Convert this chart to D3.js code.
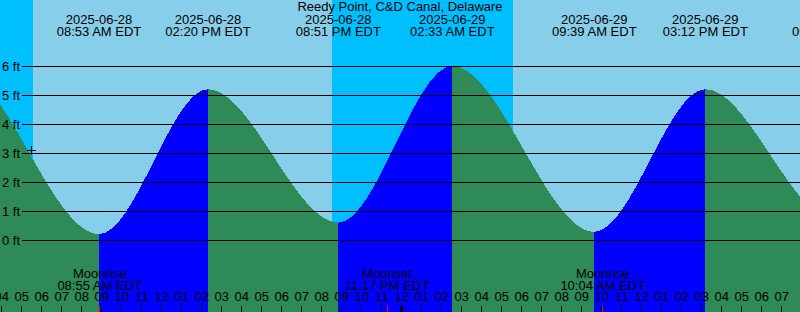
<!DOCTYPE html>
<html>
<head>
<meta charset="utf-8">
<script src="https://cdn.jsdelivr.net/npm/d3@7"></script>
<style>
  body { margin: 0; overflow: hidden; background: #87ceeb; }
  svg { display: block; }
  text { font-family: "Liberation Sans", Arial, sans-serif; font-size: 13px; fill: #000; }
</style>
</head>
<body>
<svg class="chart"></svg>
<script>
let width = 800,
  height = 312;

// chart data (first and last tides sit just outside the view)
let title = "Reedy Point, C&D Canal, Delaware";
let startTime = "2025-06-28 03:56",
  endTime = "2025-06-29 19:56";

let tideTimes = [
  "2025-06-27 19:50",
  "2025-06-28 01:50",
  "2025-06-28 08:53",
  "2025-06-28 14:20",
  "2025-06-28 20:51",
  "2025-06-29 02:33",
  "2025-06-29 09:39",
  "2025-06-29 15:12",
  "2025-06-29 21:40",
  "2025-06-30 03:25",
];
let tideHeights = [0.5, 5.9, 0.2, 5.2, 0.6, 6.0, 0.28, 5.2, 0.7, 6.0];

let sunTimes = ["2025-06-28 05:35", "2025-06-28 20:32", "2025-06-29 05:35"];
let sunKinds = ["rise", "set", "rise"];

let moonTimes = ["2025-06-28 08:55", "2025-06-28 23:17", "2025-06-29 10:04"];
let moonLabels = ["Moonrise", "Moonset", "Moonrise"];

let feetTicks = [0, 1, 2, 3, 4, 5, 6];

let nowTime = "2025-06-28 05:28",
  nowHeight = 3.1;

let parse = d3.timeParse("%Y-%m-%d %H:%M");
let fmtDate = d3.timeFormat("%Y-%m-%d");
let fmtClock = d3.timeFormat("%I:%M %p");

let x = d3.scaleTime().domain([parse(startTime), parse(endTime)]).range([0, width]);
let y = d3.scaleLinear().domain([0, 6]).range([240, 66]);

let svg = d3.select(".chart").attr("width", width).attr("height", height);

let tides = tideTimes.map((t, i) => ({ t: parse(t), h: tideHeights[i] }));

// sky: day colour everywhere, night bands on top
svg.append("rect")
  .attr("width", width).attr("height", height)
  .attr("fill", "#87ceeb");

let nights = [];
let prev = x.domain()[0];
sunTimes.forEach((s, i) => {
  let t = parse(s);
  if (sunKinds[i] == "rise") nights.push([prev, t]);
  else prev = t;
});
if (sunKinds[sunKinds.length - 1] == "set") nights.push([prev, x.domain()[1]]);

svg.selectAll(".night")
  .data(nights)
  .enter()
  .append("rect")
  .attr("class", "night")
  .attr("x", d => x(d[0]))
  .attr("width", d => x(d[1]) - x(d[0]))
  .attr("height", height)
  .attr("fill", "#00bfff")
  .attr("shape-rendering", "crispEdges");

// water: ebb green everywhere, flood blue clipped to rising stretches
let area = d3.area()
  .x(d => x(d.t))
  .y0(height)
  .y1(d => y(d.h))
  .curve(d3.curveMonotoneX);

svg.append("path")
  .datum(tides)
  .attr("d", area)
  .attr("fill", "#2e8b57")
  .attr("shape-rendering", "crispEdges");

let rising = [];
for (let i = 0; i < tides.length - 1; i++) {
  if (tides[i + 1].h > tides[i].h) rising.push([tides[i].t, tides[i + 1].t]);
}

let defs = svg.append("defs");
rising.forEach((r, i) => {
  defs.append("clipPath").attr("id", "rise" + i)
    .append("rect")
    .attr("x", Math.round(x(r[0])))
    .attr("width", Math.round(x(r[1])) - Math.round(x(r[0])))
    .attr("height", height);
  svg.append("path")
    .datum(tides)
    .attr("d", area)
    .attr("fill", "#0000ff")
    .attr("shape-rendering", "crispEdges")
    .attr("clip-path", "url(#rise" + i + ")");
});

// feet grid
let yAxis = svg.append("g")
  .attr("transform", "translate(22,0)")
  .call(d3.axisLeft(y)
    .tickValues(feetTicks)
    .tickSize(-(width - 22))
    .tickPadding(2)
    .tickFormat(d => d + " ft"));
yAxis.select(".domain").remove();
yAxis.selectAll("line").attr("stroke", "#000").attr("shape-rendering", "crispEdges");
yAxis.selectAll("text").attr("font-family", null).attr("font-size", null);

// hour ticks along the bottom
let xAxis = svg.append("g")
  .attr("transform", "translate(0," + height + ")")
  .call(d3.axisTop(x)
    .ticks(d3.timeHour.every(1))
    .tickSize(6)
    .tickPadding(5)
    .tickFormat(d3.timeFormat("%I")));
xAxis.select(".domain").remove();
xAxis.selectAll("line")
  .attr("stroke", "#000")
  .attr("shape-rendering", "crispEdges")
  .attr("stroke-width", d => (d.getHours() == 0 ? 3 : 1));
xAxis.selectAll("text").attr("font-family", null).attr("font-size", null);

// title
svg.append("text")
  .attr("x", width / 2)
  .attr("y", 11)
  .attr("text-anchor", "middle")
  .text(title);

// high / low labels
let tideLabel = svg.selectAll(".tideLabel")
  .data(tides)
  .enter()
  .append("text")
  .attr("class", "tideLabel")
  .attr("text-anchor", "middle");
tideLabel.append("tspan")
  .attr("x", d => x(d.t)).attr("y", 24)
  .text(d => fmtDate(d.t));
tideLabel.append("tspan")
  .attr("x", d => x(d.t)).attr("y", 36)
  .text(d => fmtClock(d.t) + " EDT");

// moon events
let moons = moonTimes.map((t, i) => ({ t: parse(t), name: moonLabels[i] }));

let moonLabel = svg.selectAll(".moonLabel")
  .data(moons)
  .enter()
  .append("text")
  .attr("class", "moonLabel")
  .attr("text-anchor", "middle");
moonLabel.append("tspan")
  .attr("x", d => x(d.t)).attr("y", 278)
  .text(d => d.name);
moonLabel.append("tspan")
  .attr("x", d => x(d.t)).attr("y", 289.5)
  .text(d => fmtClock(d.t) + " EDT");

svg.selectAll(".moonTick")
  .data(moons)
  .enter()
  .append("line")
  .attr("class", "moonTick")
  .attr("x1", d => Math.floor(x(d.t)) + 0.5)
  .attr("x2", d => Math.floor(x(d.t)) + 0.5)
  .attr("y1", height - 6)
  .attr("y2", height)
  .attr("stroke", "#ff0000")
  .attr("stroke-width", 1);

// current time marker
svg.append("path")
  .attr("transform", "translate(" + Math.round(x(parse(nowTime))) + "," + Math.round(y(nowHeight)) + ")")
  .attr("d", "M-4,0.5H5M0.5,-4V5")
  .attr("stroke", "#000")
  .attr("fill", "none");
</script>
</body>
</html>
